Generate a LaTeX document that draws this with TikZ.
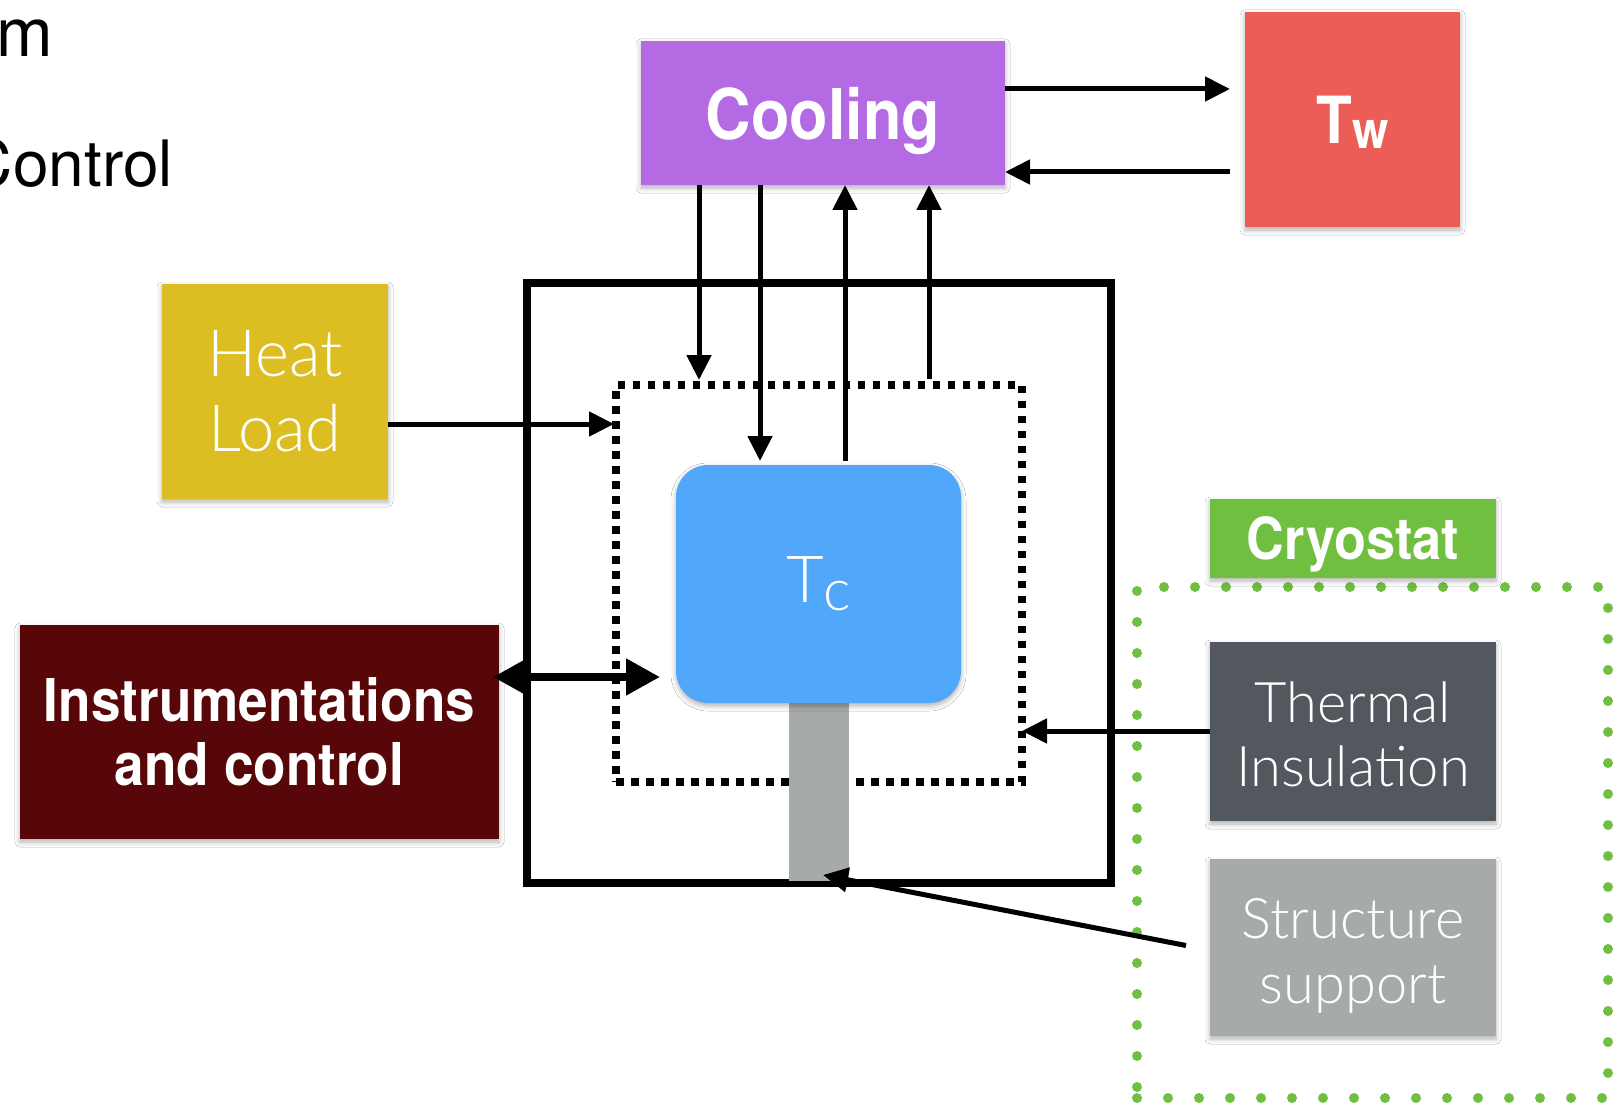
\documentclass[tikz,border=0pt]{standalone}
\usepackage{fontspec}
\setmainfont{TeX Gyre Heros}
\newfontfamily\boldf[FakeStretch=0.9]{TeX Gyre Heros}
\newfontfamily\lightf{Lato Light}
\usetikzlibrary{arrows.meta,shadows.blur,calc}
\definecolor{cpurple}{HTML}{B36AE2}
\definecolor{cred}{HTML}{EC5D57}
\definecolor{cyellow}{HTML}{DCBE22}
\definecolor{cblue}{HTML}{51A7F9}
\definecolor{cmaroon}{HTML}{570708}
\definecolor{cdark}{HTML}{53585F}
\definecolor{cgray}{HTML}{A6AAA9}
\definecolor{cgreen}{HTML}{70BF41}
\begin{document}
\begin{tikzpicture}[x=1pt,y=-1pt,
  box/.style={rectangle, inner sep=0pt, outer sep=0pt, anchor=north west, text=white, align=center,
    blur shadow={shadow xshift=0pt, shadow yshift=-3pt, shadow blur radius=5pt, shadow opacity=30}},
  boldtxt/.style={font=\boldf\bfseries\fontsize{#1}{#1}\selectfont, text depth=0pt},
  lighttxt/.style 2 args={font=\lightf\fontsize{#1}{#2}\selectfont},
  arr/.style={line width=5pt, -{Triangle[length=25pt,width=24pt]}},
  biarr/.style={line width=8pt, {Triangle[length=34pt,width=35pt]}-{Triangle[length=34pt,width=35pt]}}
]
\useasboundingbox (0,0) rectangle (1624,1107);
\clip (0,0) rectangle (1624,1107);
\fill[white] (0,0) rectangle (1624,1107);

% cut-off title text
\node[font=\fontsize{68}{68}\selectfont, anchor=base east, inner sep=0pt] (tm) at (53,57) {m};
\node[font=\fontsize{64}{64}\selectfont, anchor=base east, inner sep=0pt] (tctrl) at (173,187) {Control};

% cryostat dotted frame
\node[draw=cgreen, line width=10pt, dash pattern=on 0pt off 31pt, line cap=round,
  minimum width=471pt, minimum height=511pt, anchor=north west, inner sep=0pt, outer sep=0pt] (cryobox) at (1137,587) {};

% outer and dotted boxes
\node[draw=black, line width=8pt, minimum width=584pt, minimum height=600pt, anchor=north west, inner sep=0pt, outer sep=0pt] (outer) at (527,283) {};
\node[draw=black, line width=8pt, dash pattern=on 7.5pt off 7.5pt, minimum width=406pt, minimum height=397pt, anchor=north west, inner sep=0pt, outer sep=0pt] (dot) at (616,385) {};

% stem and Tc
\node[fill=cgray, minimum width=60pt, minimum height=178pt, anchor=north west, inner sep=0pt, outer sep=0pt] (stem) at (789,703) {};
\node[box, fill=cblue, rounded corners=32pt, minimum width=285pt, minimum height=238pt, lighttxt={65}{65}] (tc) at (676,465)
  {T\raisebox{-8pt}{\fontsize{58}{58}\selectfont c}};

% boxes
\node[box, fill=cpurple, minimum width=364pt, minimum height=144pt, boldtxt=70] (cool) at (641,41) {Cooling};
\node[box, fill=cred, minimum width=215pt, minimum height=215pt, boldtxt=65] (tw) at (1245,12)
  {T\raisebox{-5pt}{\fontsize{52}{52}\selectfont w}};
\node[box, fill=cyellow, minimum width=226pt, minimum height=215pt, lighttxt={65}{75}] (heat) at (162,284) {Heat\\Load};
\node[box, fill=cmaroon, minimum width=479pt, minimum height=214pt, font=\boldf\bfseries\fontsize{59}{64}\selectfont] (instr) at (20,625) {Instrumentations\\and control};
\node[box, fill=cgreen, minimum width=286pt, minimum height=79pt, boldtxt=58] (cryo) at (1210,499) {Cryostat};
\node[box, fill=cdark, minimum width=286pt, minimum height=179pt] (therm) at (1210,642) {};
\node[lighttxt={56}{64}, text=white, align=center] (thermlab) at ([yshift=-3pt]therm.center) {Thermal\\Insulation};
\node[box, fill=cgray, minimum width=286pt, minimum height=177pt] (struct) at (1210,859) {};
\node[lighttxt={56}{65}, text=white, align=center] (structlab) at ([yshift=-8pt]struct.center) {Structure\\support};

% arrows Cooling <-> Tw
\draw[arr, shorten >=15pt] ([yshift=-48pt]cool.north east) -- ([yshift=-48pt]cool.north east -| tw.west);
\draw[arr, shorten <=15pt] ([yshift=13pt]cool.south east -| tw.west) -- ([yshift=13pt]cool.south east);

% vertical arrows
\draw[arr, shorten >=5pt] ([xshift=58pt]cool.south west) -- ([xshift=58pt]cool.south west |- dot.north);
\draw[arr, shorten >=4pt] ([xshift=119pt]cool.south west) -- ([xshift=119pt]cool.south west |- tc.north);
\draw[arr, shorten <=4pt] ([xshift=204pt]cool.south west |- tc.north) -- ([xshift=204pt]cool.south west);
\draw[arr, shorten <=6pt] ([xshift=288pt]cool.south west |- dot.north) -- ([xshift=288pt]cool.south west);

% heat load
\draw[arr, shorten >=2pt] ([yshift=-140pt]heat.north east) -- ([yshift=-140pt]heat.north east -| dot.west);
% instrumentation
\draw[biarr, shorten >=16pt, shorten <=-6pt] ([yshift=-52pt]instr.north east) -- ([yshift=-52pt]instr.north east -| tc.west);
% thermal insulation
\draw[arr] ([yshift=-89pt]therm.north west) -- ([yshift=-89pt]therm.north west -| dot.east);
% structure support
\draw[arr] ([xshift=-24pt,yshift=2pt]struct.west) -- ([xshift=4pt,yshift=6pt]stem.south);
\end{tikzpicture}
\end{document}
